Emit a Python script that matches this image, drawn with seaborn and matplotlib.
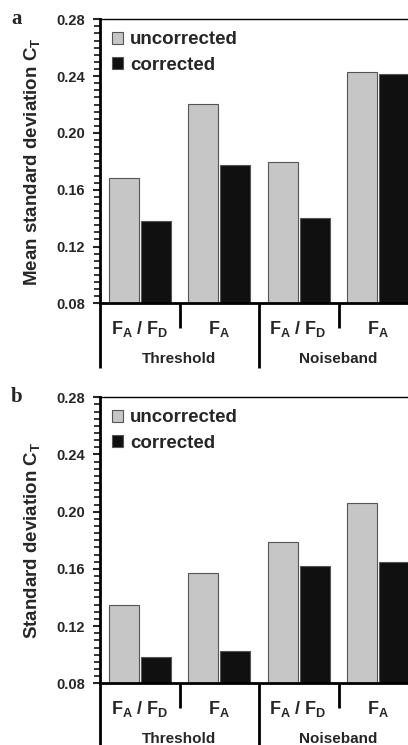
import matplotlib
matplotlib.use("Agg")
import matplotlib.pyplot as plt
import matplotlib.transforms as mtransforms
from matplotlib.ticker import MultipleLocator
import seaborn as sns
import pandas as pd

# ---- data ----
methods = ["F$_\\mathregular{A}$ / F$_\\mathregular{D}$", "F$_\\mathregular{A}$",
           "F$_\\mathregular{A}$ / F$_\\mathregular{D}$ ", "F$_\\mathregular{A}$ "]
groups = ["Threshold", "Noiseband"]
series = ["uncorrected", "corrected"]
a_uncorrected = [0.1685, 0.2205, 0.1792, 0.2430]
a_corrected = [0.1380, 0.1775, 0.1400, 0.2412]
b_uncorrected = [0.1345, 0.1572, 0.1786, 0.2062]
b_corrected = [0.0984, 0.1026, 0.1618, 0.1651]
ylabels = ["Mean standard deviation C$_\\mathregular{T}$",
           "Standard deviation C$_\\mathregular{T}$"]
panel_letters = ["a", "b"]

sns.set_theme(style="ticks")
plt.rcParams["font.family"] = ["Liberation Sans", "DejaVu Sans"]
plt.rcParams["font.weight"] = "bold"
plt.rcParams["mathtext.fontset"] = "custom"
plt.rcParams["mathtext.rm"] = "Liberation Sans:bold"
plt.rcParams["mathtext.bf"] = "Liberation Sans:bold"

fig = plt.figure(figsize=(4.08, 7.45), dpi=100)
W, H = 408, 745
ax_a = fig.add_axes([100 / W, (H - 303.3) / H, 318 / W, 284 / H])
ax_b = fig.add_axes([100 / W, (H - 683.3) / H, 318 / W, 286 / H])

palette = ["#c6c6c6", "#101010"]


def make_df(unc, cor):
    rows = []
    for m, u, c in zip(methods, unc, cor):
        rows.append({"method": m, "series": series[0], "value": u})
        rows.append({"method": m, "series": series[1], "value": c})
    return pd.DataFrame(rows)


for ax, unc, cor, ylab, letter in [
    (ax_a, a_uncorrected, a_corrected, ylabels[0], panel_letters[0]),
    (ax_b, b_uncorrected, b_corrected, ylabels[1], panel_letters[1]),
]:
    df = make_df(unc, cor)
    sns.barplot(data=df, x="method", y="value", hue="series", hue_order=series,
                palette=palette, width=0.8, gap=0.06, ax=ax, saturation=1,
                edgecolor="#555555", linewidth=0.8)
    ax.set_ylim(0.08, 0.28)
    ax.set_xlim(-0.5, 3.5)
    ax.yaxis.set_major_locator(MultipleLocator(0.04))
    ax.yaxis.set_minor_locator(MultipleLocator(0.005))
    ax.yaxis.set_major_formatter(matplotlib.ticker.FormatStrFormatter("%.2f"))
    ax.tick_params(axis="y", which="major", direction="out", length=5, width=1.5,
                   labelsize=10.5, pad=6)
    ax.tick_params(axis="y", which="minor", direction="out", length=4, width=1.3)
    ax.tick_params(axis="x", length=0, labelsize=13, pad=11)
    for lab in ax.get_xticklabels():
        lab.set_fontweight("bold")
    for lab in ax.get_yticklabels():
        lab.set_fontweight("bold")
    ax.set_xlabel("")
    ax.set_ylabel(ylab, fontsize=13.5, fontweight="bold", labelpad=9)
    for side in ["left", "bottom"]:
        ax.spines[side].set_linewidth(2)
        ax.spines[side].set_color("black")
    for side in ["top", "right"]:
        ax.spines[side].set_linewidth(1)
        ax.spines[side].set_color("black")

    # category separators below axis
    trans = mtransforms.blended_transform_factory(ax.transData, ax.transAxes)
    for x, depth in [(-0.5, 0.229), (0.5, 0.088), (1.5, 0.229), (2.5, 0.088), (3.5, 0.229)]:
        ax.plot([x, x], [0, -depth], transform=trans, clip_on=False,
                color="black", lw=2, solid_capstyle="butt")
    for gi, g in enumerate(groups):
        ax.text(0.5 + 2 * gi, -0.195, g, transform=trans, ha="center", va="center",
                fontsize=11, fontweight="bold")

    handles, labels = ax.get_legend_handles_labels()
    ax.legend(handles, labels, loc="upper left", frameon=False,
              prop={"size": 13.5, "weight": "bold"}, handlelength=0.6,
              handleheight=0.6, handletextpad=0.35, labelspacing=0.45,
              borderaxespad=0.45, borderpad=0.2)

    ax.text(-0.28, 1.0, letter, transform=ax.transAxes, ha="left", va="center",
            fontsize=15, fontweight="bold", family="Liberation Serif")

fig.savefig("out.png", dpi=100)
